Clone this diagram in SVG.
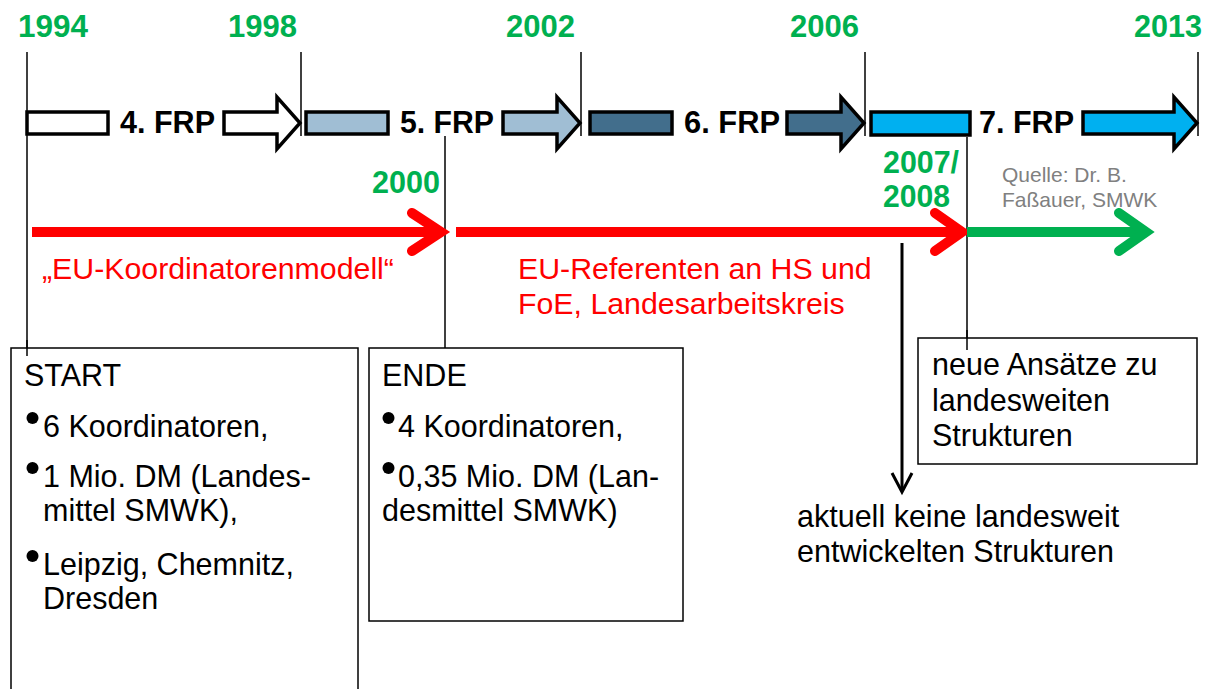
<svg xmlns="http://www.w3.org/2000/svg" width="1206" height="689" viewBox="0 0 1206 689">
<defs>
<style>
.yr{font-family:"Liberation Sans",Arial,sans-serif;font-weight:bold;font-size:32px;fill:#00B050}
.frp{font-family:"Liberation Sans",Arial,sans-serif;font-weight:bold;font-size:31px;fill:#000}
.tx{font-family:"Liberation Sans",Arial,sans-serif;font-size:30.5px;fill:#000}
.red{font-family:"Liberation Sans",Arial,sans-serif;font-size:30.3px;fill:#FF0000}
.src{font-family:"Liberation Sans",Arial,sans-serif;font-size:21px;fill:#808080}
.tick{stroke:#000;stroke-width:1.5;fill:none}
.bar{stroke:#000;stroke-width:3.5}
.box{fill:#fff;stroke:#000;stroke-width:1.5}
.dot{fill:#000}
.redarr{stroke:#FF0000;stroke-width:10;fill:none;stroke-linecap:butt}
.redhead{stroke:#FF0000;stroke-width:10;fill:none;stroke-linecap:round;stroke-linejoin:miter}
.grn{stroke:#00B050;stroke-width:10;fill:none}
.grnhead{stroke:#00B050;stroke-width:10;fill:none;stroke-linecap:round}
</style>
</defs>
<rect width="1206" height="689" fill="#fff"/>

<g id="connectors">
<line class="tick" x1="27" y1="52" x2="27" y2="356"/>
<line class="tick" x1="301" y1="52" x2="301" y2="136"/>
<line class="tick" x1="581" y1="52" x2="581" y2="136"/>
<line class="tick" x1="865" y1="52" x2="865" y2="136"/>
<line class="tick" x1="1198" y1="52" x2="1198" y2="136"/>
<line class="tick" x1="445" y1="136" x2="445" y2="348"/>
<line class="tick" x1="967" y1="137" x2="967" y2="350"/>
<line class="redarr" x1="32" y1="232" x2="440" y2="232"/>
<polyline class="redhead" points="412,213 441,232 412,251"/>
<line class="redarr" x1="456" y1="232" x2="961" y2="232"/>
<polyline class="redhead" points="935,213 962,232 935,251"/>
<line class="grn" x1="967" y1="232" x2="1143" y2="232"/>
<polyline class="grnhead" points="1119,213 1146,232 1119,251"/>
<line stroke="#000" stroke-width="3" x1="902" y1="243" x2="902" y2="491"/>
<polyline stroke="#000" stroke-width="3" fill="none" points="892,473 902,492 912,473"/>
</g>

<g id="years">
<text class="yr" x="18" y="37" textLength="70" lengthAdjust="spacingAndGlyphs">1994</text>
<text class="yr" x="228" y="37" textLength="69" lengthAdjust="spacingAndGlyphs">1998</text>
<text class="yr" x="506" y="37" textLength="69" lengthAdjust="spacingAndGlyphs">2002</text>
<text class="yr" x="790" y="37" textLength="69" lengthAdjust="spacingAndGlyphs">2006</text>
<text class="yr" x="1134" y="37" textLength="68" lengthAdjust="spacingAndGlyphs">2013</text>
<text class="yr" x="372" y="193" textLength="68" lengthAdjust="spacingAndGlyphs">2000</text>
<text class="yr" x="883" y="173" textLength="76" lengthAdjust="spacingAndGlyphs">2007/</text>
<text class="yr" x="883" y="207" textLength="67" lengthAdjust="spacingAndGlyphs">2008</text>
</g>

<g id="frp4">
<rect class="bar" x="27" y="112" width="81" height="22" fill="#fff"/>
<text class="frp" x="120" y="133" textLength="95" lengthAdjust="spacingAndGlyphs">4. FRP</text>
<polygon class="bar" fill="#fff" points="224,112 277,112 277,97 300,123 277,149 277,134 224,134"/>
</g>
<g id="frp5">
<rect class="bar" x="306" y="112" width="82" height="22" fill="#A0BED4"/>
<text class="frp" x="400" y="133" textLength="94" lengthAdjust="spacingAndGlyphs">5. FRP</text>
<polygon class="bar" fill="#A0BED4" points="503,112 557,112 557,97 580,123 557,149 557,134 503,134"/>
</g>
<g id="frp6">
<rect class="bar" x="590" y="112" width="82" height="22" fill="#426E8C"/>
<text class="frp" x="684" y="133" textLength="96" lengthAdjust="spacingAndGlyphs">6. FRP</text>
<polygon class="bar" fill="#426E8C" points="787,112 841,112 841,97 864,123 841,149 841,134 787,134"/>
</g>
<g id="frp7">
<rect class="bar" x="871" y="112" width="99" height="23" fill="#00B0F0"/>
<text class="frp" x="979" y="133" textLength="95" lengthAdjust="spacingAndGlyphs">7. FRP</text>
<polygon class="bar" fill="#00B0F0" points="1083,112 1174,112 1174,97 1197,123 1174,149 1174,134 1083,134"/>
</g>

<g id="labels">
<text class="red" x="42" y="279">„EU-Koordinatorenmodell“</text>
<text class="red" x="518" y="279">EU-Referenten an HS und</text>
<text class="red" x="518" y="314">FoE, Landesarbeitskreis</text>
<text class="src" x="1002" y="182">Quelle: Dr. B.</text>
<text class="src" x="1002" y="207">Faßauer, SMWK</text>
</g>

<g id="start">
<rect class="box" x="11" y="348" width="347" height="350"/>
<line class="tick" x1="27" y1="340" x2="27" y2="356"/>
<text class="tx" x="24" y="386">START</text>
<circle class="dot" cx="32.5" cy="418" r="6"/>
<text class="tx" x="43" y="437">6 Koordinatoren,</text>
<circle class="dot" cx="32.5" cy="468" r="6"/>
<text class="tx" x="43" y="487">1 Mio. DM (Landes-</text>
<text class="tx" x="43" y="521">mittel SMWK),</text>
<circle class="dot" cx="32.5" cy="556" r="6"/>
<text class="tx" x="43" y="575">Leipzig, Chemnitz,</text>
<text class="tx" x="43" y="609">Dresden</text>
</g>

<g id="ende">
<rect class="box" x="369" y="348" width="314" height="273"/>
<text class="tx" x="382" y="386">ENDE</text>
<circle class="dot" cx="388.5" cy="418" r="6"/>
<text class="tx" x="398" y="437">4 Koordinatoren,</text>
<circle class="dot" cx="388.5" cy="468" r="6"/>
<text class="tx" x="398" y="487">0,35 Mio. DM (Lan-</text>
<text class="tx" x="382" y="521">desmittel SMWK)</text>
</g>

<g id="neue">
<rect class="box" x="918" y="338" width="279" height="126"/>
<line class="tick" x1="967" y1="330" x2="967" y2="350"/>
<text class="tx" x="932" y="375">neue Ansätze zu</text>
<text class="tx" x="932" y="411">landesweiten</text>
<text class="tx" x="932" y="446">Strukturen</text>
</g>

<g id="aktuell">
<text class="tx" x="797" y="527">aktuell keine landesweit</text>
<text class="tx" x="797" y="562">entwickelten Strukturen</text>
</g>
</svg>
